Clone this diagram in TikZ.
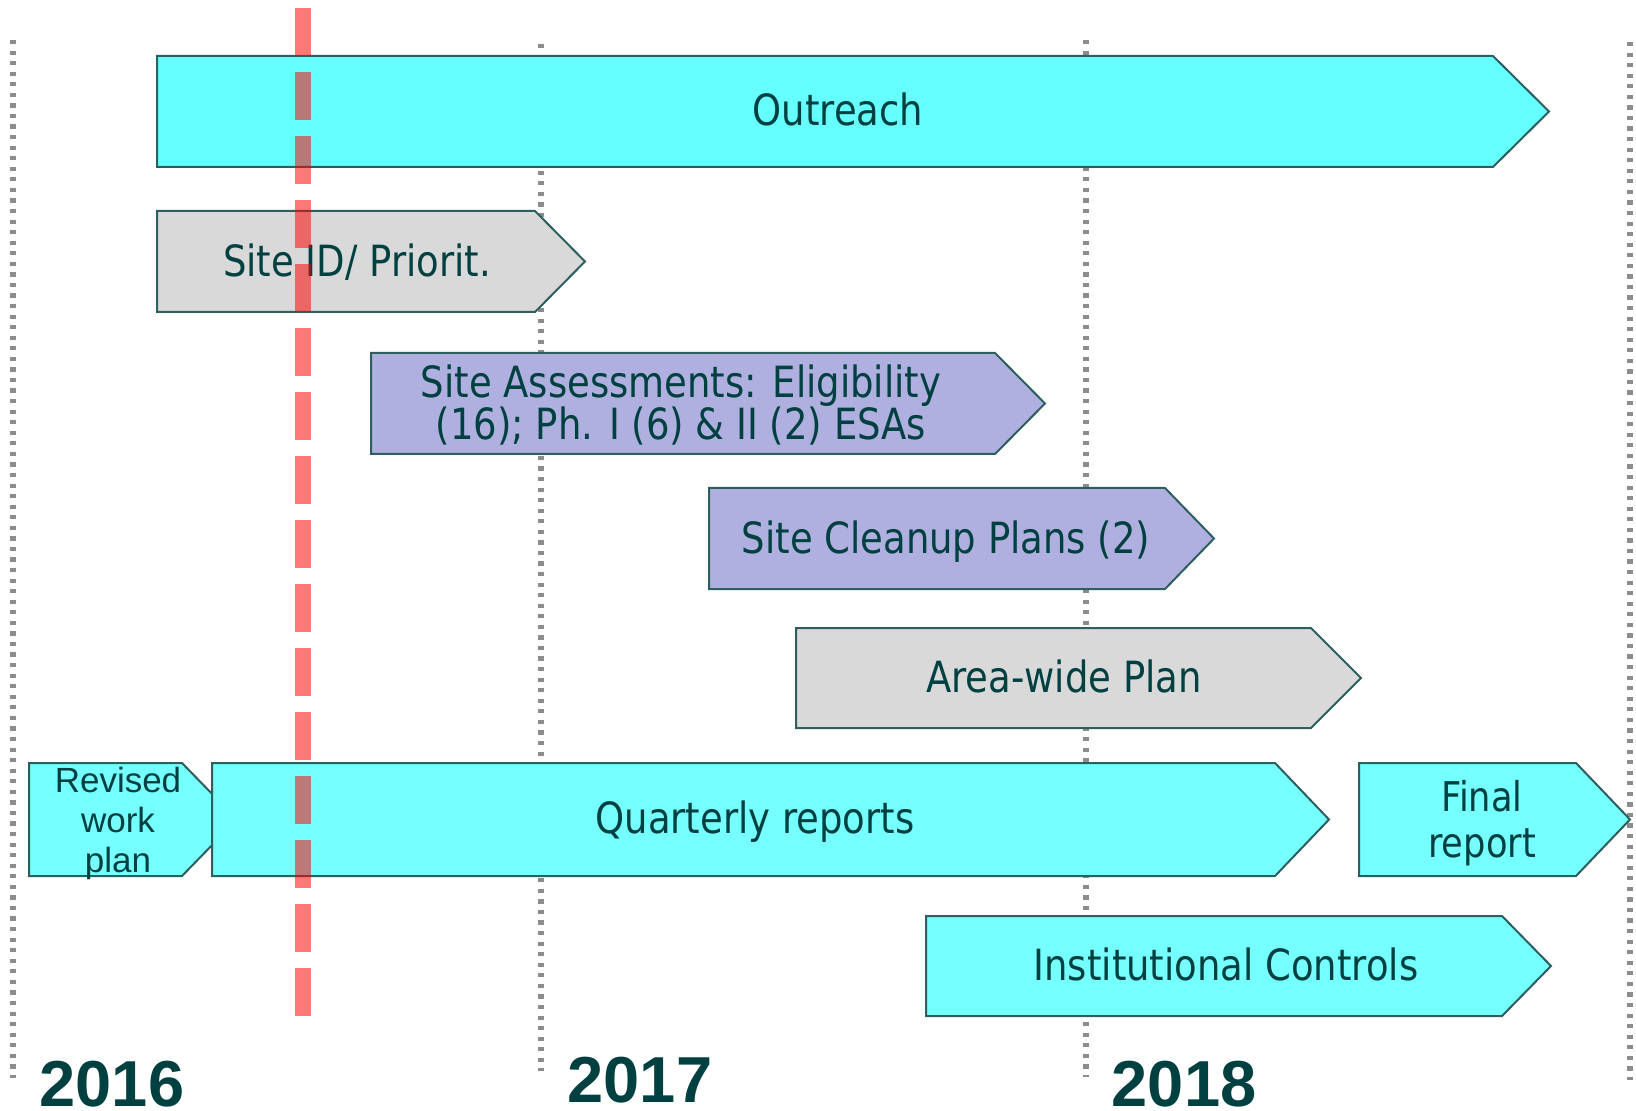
\documentclass[tikz,border=0pt]{standalone}
\usepackage{fontspec}
\newfontfamily\tah[FakeStretch=0.86]{DejaVu Sans}
\newfontfamily\arl{Liberation Sans}
\definecolor{txtc}{RGB}{0,64,64}
\definecolor{edgec}{RGB}{45,95,95}
\definecolor{cyanA}{RGB}{102,255,255}
\definecolor{cyanB}{RGB}{118,255,255}
\definecolor{greyA}{RGB}{217,217,217}
\definecolor{lavA}{RGB}{176,176,224}
\definecolor{gridgray}{RGB}{140,140,140}
\begin{document}
\begin{tikzpicture}[x=0.5pt,y=-0.5pt,
  gridline/.style={draw=gridgray, line width=2.8pt, dash pattern=on 2.1pt off 3.18pt},
  bar/.style={draw=edgec, line width=1pt, line join=miter},
  lbl/.style={text=txtc, font=\tah\fontsize{21.5}{21}\selectfont, inner sep=0pt, align=center, anchor=base},
  year/.style={text=txtc, font=\arl\bfseries\fontsize{32.5}{32}\selectfont, inner sep=0pt, anchor=base},
  todayline/.style={draw=red, draw opacity=0.53, line width=8pt, dash pattern=on 24pt off 8pt}]
\useasboundingbox (0,0) rectangle (1636,1111);
\fill[white] (0,0) rectangle (1636,1111);
% year grid lines
\coordinate (g1a) at (13,40);   \coordinate (g1b) at (13,1078);
\coordinate (g2a) at (541,44);  \coordinate (g2b) at (541,1071);
\coordinate (g3a) at (1086,40); \coordinate (g3b) at (1086,1077);
\coordinate (g4a) at (1630,42); \coordinate (g4b) at (1630,1080);
\draw[gridline] (g1a) -- (g1b);
\draw[gridline] (g2a) -- (g2b);
\draw[gridline] (g3a) -- (g3b);
\draw[gridline] (g4a) -- (g4b);
% bars
\path[bar, fill=cyanA] (157,56) -- (1493,56) -- (1549,111.5) -- (1493,167) -- (157,167) -- cycle;
\path[bar, fill=greyA] (157,211) -- (535,211) -- (585,261.5) -- (535,312) -- (157,312) -- cycle;
\path[bar, fill=lavA] (371,353) -- (995,353) -- (1045,403.5) -- (995,454) -- (371,454) -- cycle;
\path[bar, fill=lavA] (709,488) -- (1165,488) -- (1214,538.5) -- (1165,589) -- (709,589) -- cycle;
\path[bar, fill=greyA] (796,628) -- (1311,628) -- (1361,678) -- (1311,728) -- (796,728) -- cycle;
\path[bar, fill=cyanB] (29,763) -- (182,763) -- (237,819.5) -- (182,876) -- (29,876) -- cycle;
\path[bar, fill=cyanB] (212,763) -- (1275,763) -- (1329,819.5) -- (1275,876) -- (212,876) -- cycle;
\path[bar, fill=cyanB] (1359,763) -- (1576,763) -- (1630,819.5) -- (1576,876) -- (1359,876) -- cycle;
\path[bar, fill=cyanB] (926,916) -- (1502,916) -- (1551,966) -- (1502,1016) -- (926,1016) -- cycle;
% labels (multi-line labels anchored at the baseline of their last line)
\node[lbl] (outreach) at (838,126) {Outreach};
\node[lbl] (siteid) at (357,277) {Site ID/ Priorit.};
\node[lbl] (assess) at (681,440) {Site Assessments: Eligibility\\(16); Ph. I (6) \& II (2) ESAs};
\node[lbl] (cleanup) at (946,553) {Site Cleanup Plans (2)};
\node[lbl] (areawide) at (1064,692) {Area-wide Plan};
\node[lbl, font=\arl\fontsize{17.5}{20}\selectfont] (revised) at (118,872) {Revised\\work\\plan};
\node[lbl] (quarterly) at (755,833) {Quarterly reports};
\node[lbl, font=\tah\fontsize{20.5}{23}\selectfont] (final) at (1482,857) {Final\\report};
\node[lbl] (inst) at (1226,980) {Institutional Controls};
% years
\node[year] (y2016) at (112,1106) {2016};
\node[year] (y2017) at (640,1102) {2017};
\node[year] (y2018) at (1184,1106) {2018};
% current date marker
\coordinate (ta) at (303,8);
\coordinate (tb) at (303,1016);
\draw[todayline] (ta) -- (tb);
\end{tikzpicture}
\end{document}
